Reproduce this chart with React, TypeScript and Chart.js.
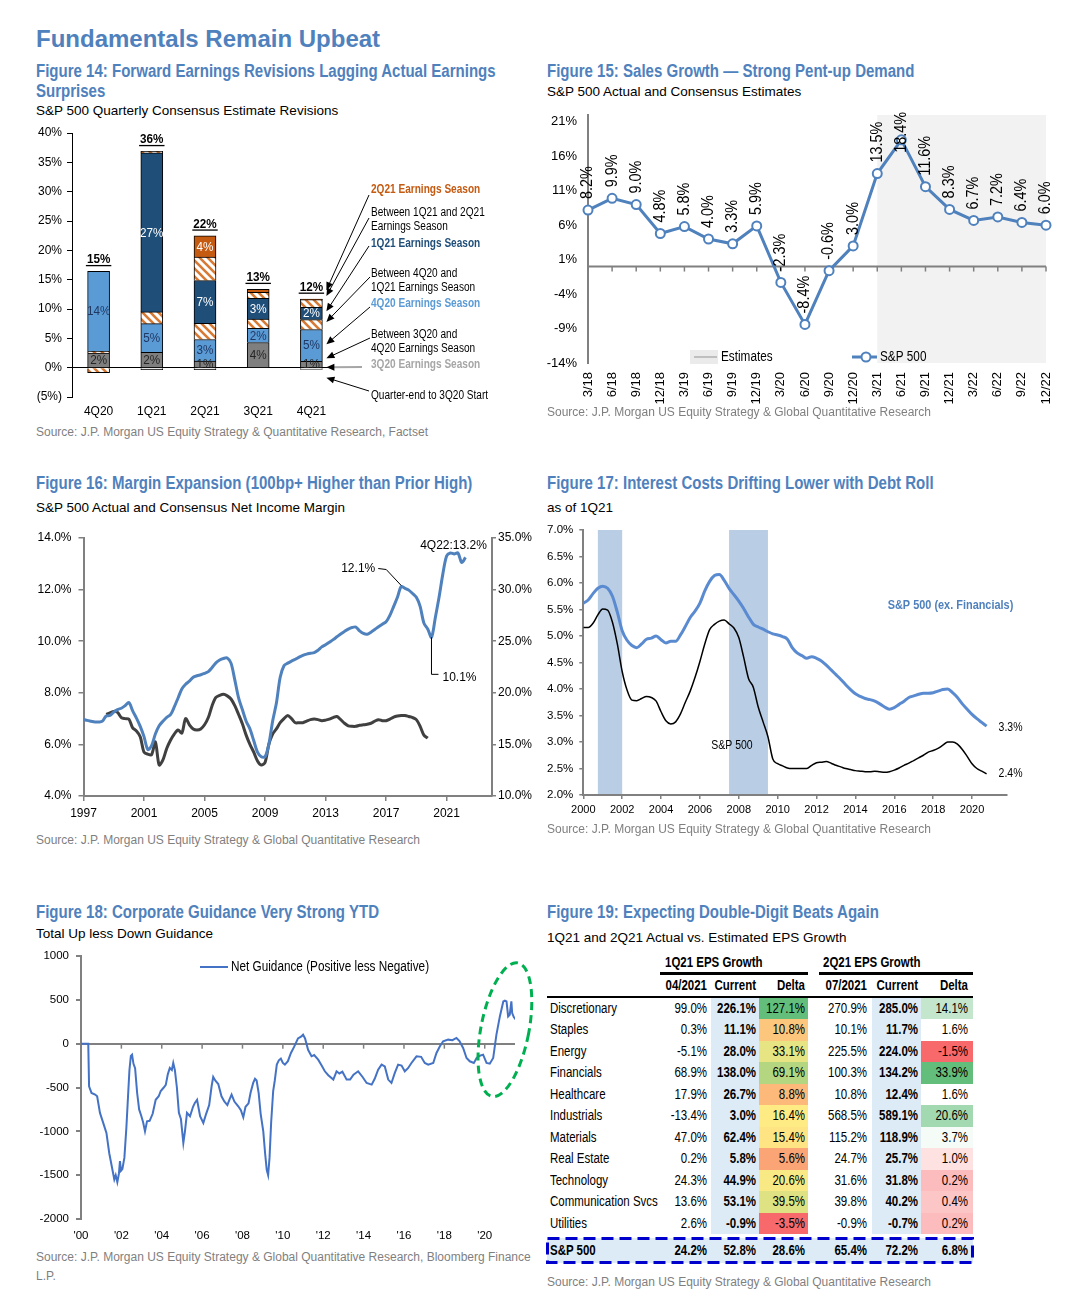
import React, { useEffect, useRef } from "react";
import { Chart, registerables } from "chart.js";

Chart.register(...registerables);

const SANS = '"Liberation Sans", Arial, Helvetica, sans-serif';
const TITLE_BLUE = "#4F81BD";
const AXIS_GRAY = "#808080";
const SOURCE_GRAY = "#7F7F7F";
const NARROW_X = 0.835;

Chart.defaults.font.family = SANS;
Chart.defaults.color = "#000";

/* ---------------- Figure 14 data ---------------- */
const F14_QUARTERS = ["4Q20", "1Q21", "2Q21", "3Q21", "4Q21"];
const F14_SERIES = [
  "Quarter-end to 3Q20 Start",
  "3Q20 Earnings Season",
  "Between 3Q20 and 4Q20 Earnings Season",
  "4Q20 Earnings Season",
  "Between 4Q20 and 1Q21 Earnings Season",
  "1Q21 Earnings Season",
  "Between 1Q21 and 2Q21 Earnings Season",
  "2Q21 Earnings Season",
];
const F14_QE_TO_3Q20 = [-0.86, -0.34, -0.34, 0, -0.3];
const F14_3Q20_SEASON = [2.5, 2.6, 1.14, 4.29, 1.1];
const F14_3Q20_TO_4Q20 = [0.3, 0, 0, 0, 0];
const F14_4Q20_SEASON = [13.6, 4.9, 3.66, 2.4, 5.4];
const F14_4Q20_TO_1Q21 = [0, 2.0, 2.74, 1.6, 1.7];
const F14_1Q21_SEASON = [0, 27.1, 7.32, 3.54, 2.1];
const F14_1Q21_TO_2Q21 = [0, 0.26, 4.0, 1.03, 1.3];
const F14_2Q21_SEASON = [0, 0, 3.6, 0.51, 0.1];
const F14_STACK = [
  F14_QE_TO_3Q20,
  F14_3Q20_SEASON,
  F14_3Q20_TO_4Q20,
  F14_4Q20_SEASON,
  F14_4Q20_TO_1Q21,
  F14_1Q21_SEASON,
  F14_1Q21_TO_2Q21,
  F14_2Q21_SEASON,
];
const F14_TOTALS = ["15%", "36%", "22%", "13%", "12%"];
const F14_LBL_3Q20 = ["2%", "2%", "1%", "4%", "1%"];
const F14_LBL_4Q20 = ["14%", "5%", "3%", "2%", "5%"];
const F14_LBL_1Q21 = ["", "27%", "7%", "3%", "2%"];
const F14_LBL_2Q21 = ["", "", "4%", "", ""];
const F14_Y_TICKS = [-5, 0, 5, 10, 15, 20, 25, 30, 35, 40];
const F14_NOTES = [
  { lines: ["2Q21 Earnings Season"], color: "#C55A11", bold: true },
  { lines: ["Between 1Q21 and 2Q21", "Earnings Season"], color: "#000", bold: false },
  { lines: ["1Q21 Earnings Season"], color: "#1F4E79", bold: true },
  { lines: ["Between 4Q20 and", "1Q21 Earnings Season"], color: "#000", bold: false },
  { lines: ["4Q20 Earnings Season"], color: "#5B9BD5", bold: true },
  { lines: ["Between 3Q20 and", "4Q20 Earnings Season"], color: "#000", bold: false },
  { lines: ["3Q20 Earnings Season"], color: "#A6A6A6", bold: true },
  { lines: ["Quarter-end to 3Q20 Start"], color: "#000", bold: false },
];

/* ---------------- Figure 15 data ---------------- */
const F15_QUARTERS = ["3/18", "6/18", "9/18", "12/18", "3/19", "6/19", "9/19", "12/19", "3/20", "6/20", "9/20", "12/20", "3/21", "6/21", "9/21", "12/21", "3/22", "6/22", "9/22", "12/22"];
const F15_SALES = [8.2, 9.9, 9.0, 4.8, 5.8, 4.0, 3.3, 5.9, -2.3, -8.4, -0.6, 3.0, 13.5, 18.4, 11.6, 8.3, 6.7, 7.2, 6.4, 6.0];
const F15_Y_TICKS = [-14, -9, -4, 1, 6, 11, 16, 21];
const F15_FIRST_ESTIMATE = "3/21";
const F15_LEGEND = ["Estimates", "S&P 500"];

/* ---------------- Figure 16 data (quarterly) ---------------- */
const F16_NET_START = 1997;
const F16_NET_MARGIN = [
  6.97, 6.93, 6.9, 6.87, 6.87, 6.9, 7.1, 7.12, 7.25, 7.35, 7.4, 7.5,
  7.62, 7.3, 7.02, 6.7, 6.3, 5.8, 5.95, 6.4, 6.72, 6.9, 7.05, 7.15,
  7.45, 7.8, 8.15, 8.33, 8.45, 8.6, 8.66, 8.7, 8.75, 8.82, 8.98, 9.16,
  9.27, 9.33, 9.35, 9.15, 8.5, 7.8, 7.35, 6.9, 6.6, 6.15, 5.7, 5.52,
  5.52, 6.0, 6.9, 7.6, 8.6, 9.05, 9.15, 9.23, 9.3, 9.38, 9.45, 9.5,
  9.53, 9.56, 9.65, 9.78, 9.86, 9.96, 10.06, 10.17, 10.28, 10.38, 10.47, 10.53,
  10.55, 10.4, 10.3, 10.27, 10.35, 10.45, 10.56, 10.66, 10.75, 11.0, 11.35, 11.7,
  12.12, 12.05, 11.98, 11.85, 11.7, 11.35, 10.7, 10.47, 10.15, 10.9, 11.7, 12.6,
  13.3, 13.42, 13.38, 13.42, 13.05, 13.25,
];
const F16_OTHER_START = 1998.5;
const F16_OTHER = [
  17.9, 18.05, 18.2, 18.1, 17.6, 17.5, 17.45, 16.6, 16.3, 15.75, 14.25, 14.05,
  14.0, 15.25, 13.0, 13.5, 14.6, 15.4, 16.0, 16.4, 16.1, 17.5, 16.9, 16.5,
  16.4, 16.5, 16.9, 17.6, 18.75, 19.55, 19.75, 19.85, 19.7, 19.4, 18.75, 17.9,
  17.0, 15.9, 15.0, 14.25, 13.4, 13.0, 13.25, 15.0, 16.0, 16.5, 17.1, 17.5,
  17.8, 17.5, 17.1, 17.1, 17.1, 17.25, 17.4, 17.45, 17.4, 17.3, 17.35, 17.45,
  17.6, 17.7, 17.4, 17.05, 16.8, 16.75, 16.75, 16.85, 16.9, 16.95, 17.05, 17.25,
  17.4, 17.3, 17.3, 17.45, 17.65, 17.75, 17.8, 17.8, 17.7, 17.6, 17.4, 16.75,
  15.9, 15.6,
];
const F16_X_TICKS = [1997, 2001, 2005, 2009, 2013, 2017, 2021];
const F16_NOTE_LAST = "4Q22:13.2%";
const F16_NOTE_PEAK = "12.1%";
const F16_NOTE_TROUGH = "10.1%";

/* ---------------- Figure 17 data (quarterly) ---------------- */
const F17_START = 2000;
const F17_EX_FIN = [
  5.62, 5.68, 5.8, 5.9, 5.94, 5.9, 5.75, 5.45, 5.1, 4.92, 4.82, 4.78,
  4.85, 4.94, 4.96, 5.0, 4.93, 4.87, 4.9, 4.9, 5.02, 5.18, 5.35, 5.47,
  5.62, 5.85, 6.03, 6.14, 6.16, 6.05, 5.9, 5.78, 5.66, 5.52, 5.36, 5.22,
  5.17, 5.13, 5.08, 5.04, 5.02, 4.99, 4.94, 4.78, 4.68, 4.63, 4.58, 4.61,
  4.58, 4.53, 4.45, 4.36, 4.27, 4.18, 4.08, 3.99, 3.91, 3.86, 3.82, 3.8,
  3.77, 3.72, 3.66, 3.62, 3.65, 3.71, 3.77, 3.84, 3.87, 3.9, 3.92, 3.92,
  3.93, 3.96, 3.99, 4.0, 3.93, 3.84, 3.72, 3.62, 3.52, 3.44, 3.37, 3.3,
];
const F17_SP500 = [
  5.16, 5.16, 5.24, 5.4, 5.51, 5.49, 5.26, 4.85, 4.33, 3.98, 3.79, 3.78,
  3.82, 3.86, 3.84, 3.77, 3.57, 3.4, 3.34, 3.38, 3.53, 3.75, 3.96, 4.22,
  4.52, 4.85, 5.12, 5.22, 5.28, 5.3, 5.23, 5.15, 4.97, 4.6, 4.2, 4.03,
  3.66, 3.38, 3.1, 2.68, 2.59, 2.55, 2.51, 2.5, 2.5, 2.5, 2.5, 2.56,
  2.61, 2.62, 2.63, 2.6, 2.56, 2.53, 2.5, 2.48, 2.46, 2.45, 2.44, 2.44,
  2.45, 2.44, 2.43, 2.44, 2.47, 2.51, 2.56, 2.6, 2.65, 2.7, 2.75, 2.81,
  2.84, 2.88, 2.94, 3.0, 3.0, 2.96, 2.86, 2.73, 2.59, 2.5, 2.45, 2.4,
];
const F17_RECESSIONS = [
  [2000.75, 2002.0],
  [2007.5, 2009.5],
];
const F17_X_TICKS = [2000, 2002, 2004, 2006, 2008, 2010, 2012, 2014, 2016, 2018, 2020];
const F17_NAMES = ["S&P 500 (ex. Financials)", "S&P 500"];

/* ---------------- Figure 18 data ---------------- */
const F18_DATES = [
  2000.0, 2000.36, 2000.4, 2000.52, 2000.7, 2000.8, 2000.94, 2001.1, 2001.26, 2001.4, 2001.55, 2001.65,
  2001.72, 2001.8, 2001.88, 2001.93, 2001.98, 2002.05, 2002.15, 2002.25, 2002.33, 2002.4, 2002.47, 2002.53,
  2002.6, 2002.68, 2002.78, 2002.88, 2002.98, 2003.08, 2003.17, 2003.27, 2003.4, 2003.55, 2003.7, 2003.85,
  2003.95, 2004.1, 2004.2, 2004.3, 2004.4, 2004.5, 2004.57, 2004.65, 2004.75, 2004.85, 2004.95, 2005.07,
  2005.15, 2005.25, 2005.4, 2005.55, 2005.64, 2005.75, 2005.9, 2006.06, 2006.2, 2006.35, 2006.47, 2006.55,
  2006.65, 2006.8, 2006.96, 2007.1, 2007.25, 2007.35, 2007.46, 2007.6, 2007.79, 2007.92, 2008.04, 2008.15,
  2008.3, 2008.4, 2008.53, 2008.62, 2008.7, 2008.8, 2008.9, 2009.03, 2009.12, 2009.2, 2009.27, 2009.34,
  2009.42, 2009.52, 2009.6, 2009.7, 2009.8, 2009.9, 2010.0, 2010.1, 2010.25, 2010.4, 2010.55, 2010.75,
  2010.9, 2011.0, 2011.1, 2011.25, 2011.42, 2011.55, 2011.75, 2011.9, 2012.08, 2012.25, 2012.5, 2012.66,
  2012.8, 2012.95, 2013.16, 2013.33, 2013.5, 2013.73, 2013.95, 2014.15, 2014.4, 2014.55, 2014.72, 2014.89,
  2015.05, 2015.22, 2015.38, 2015.55, 2015.71, 2015.88, 2016.04, 2016.2, 2016.37, 2016.62, 2016.85, 2017.03,
  2017.2, 2017.45, 2017.61, 2017.78, 2017.94, 2018.19, 2018.4, 2018.6, 2018.75, 2018.93, 2019.1, 2019.26,
  2019.46, 2019.6, 2019.76, 2019.92, 2020.09, 2020.25, 2020.42, 2020.58, 2020.75, 2020.92, 2021.0, 2021.08,
  2021.16, 2021.24, 2021.32, 2021.36, 2021.44, 2021.54,
];
const F18_NET_GUIDANCE = [
  0, 0, -486, -562, -581, -600, -790, -904, -1018, -1250, -1430, -1550,
  -1500, -1580, -1480, -1340, -1450, -1430, -1300, -950, -600, -300, -140, -125,
  -230, -280, -560, -750, -820, -900, -1000, -885, -880, -800, -640, -600,
  -540, -500, -470, -350, -277, -300, -220, -300, -500, -790, -860, -1132,
  -1000, -790, -828, -720, -676, -640, -828, -904, -800, -700, -486, -380,
  -420, -460, -600, -660, -700, -640, -580, -660, -714, -760, -840, -720,
  -680, -560, -448, -400, -420, -560, -800, -1000, -1250, -1440, -1500, -1300,
  -900, -540, -420, -239, -190, -170, -220, -239, -200, -106, -40, 60,
  80, 103, 60, -70, -144, -130, -182, -240, -315, -360, -410, -315,
  -340, -320, -410, -410, -353, -315, -380, -448, -467, -400, -296, -239,
  -260, -410, -448, -330, -239, -250, -315, -280, -220, -144, -150, -220,
  -240, -220, -106, -30, 27, 46, 40, 65, 30, -49, -163, -201,
  -220, -163, -137, -125, -220, -228, -163, 103, 311, 482, 490, 482,
  311, 330, 482, 349, 304, 273,
];
const F18_X_TICKS = [2000, 2002, 2004, 2006, 2008, 2010, 2012, 2014, 2016, 2018, 2020];
const F18_Y_TICKS = [-2000, -1500, -1000, -500, 0, 500, 1000];
const F18_SERIES = "Net Guidance (Positive less Negative)";

/* ---------------- Figure 19 data ---------------- */
const F19_SECTORS = ["Discretionary", "Staples", "Energy", "Financials", "Healthcare", "Industrials", "Materials", "Real Estate", "Technology", "Communication Svcs", "Utilities"];
const F19_1Q_APR = [99.0, 0.3, -5.1, 68.9, 17.9, -13.4, 47.0, 0.2, 24.3, 13.6, 2.6];
const F19_1Q_CUR = [226.1, 11.1, 28.0, 138.0, 26.7, 3.0, 62.4, 5.8, 44.9, 53.1, -0.9];
const F19_1Q_DELTA = [127.1, 10.8, 33.1, 69.1, 8.8, 16.4, 15.4, 5.6, 20.6, 39.5, -3.5];
const F19_2Q_JUL = [270.9, 10.1, 225.5, 100.3, 10.8, 568.5, 115.2, 24.7, 31.6, 39.8, -0.9];
const F19_2Q_CUR = [285.0, 11.7, 224.0, 134.2, 12.4, 589.1, 118.9, 25.7, 31.8, 40.2, -0.7];
const F19_2Q_DELTA = [14.1, 1.6, -1.5, 33.9, 1.6, 20.6, 3.7, 1.0, 0.2, 0.4, 0.2];
const F19_TOTAL_NAME = "S&P 500";
const F19_TOTAL = [24.2, 52.8, 28.6, 65.4, 72.2, 6.8];

/* ---------------- helpers ---------------- */
function makeHatch(): any {
  const c = document.createElement("canvas");
  c.width = 8;
  c.height = 8;
  const g = c.getContext("2d")!;
  g.fillStyle = "#fff";
  g.fillRect(0, 0, 8, 8);
  g.strokeStyle = "#D77A35";
  g.lineWidth = 2.6;
  g.beginPath();
  g.moveTo(-2, -2);
  g.lineTo(10, 10);
  g.moveTo(-6, 2);
  g.lineTo(6, 14);
  g.moveTo(2, -6);
  g.lineTo(14, 6);
  g.stroke();
  return g.createPattern(c, "repeat");
}

function drawArrow(ctx: any, x1: number, y1: number, x2: number, y2: number, color: string, width: number) {
  ctx.save();
  ctx.strokeStyle = color;
  ctx.lineWidth = width;
  const a = Math.atan2(y2 - y1, x2 - x1);
  const L = 8,
    W = 3.5;
  ctx.beginPath();
  ctx.moveTo(x1, y1);
  ctx.lineTo(x2 - Math.cos(a) * 4, y2 - Math.sin(a) * 4);
  ctx.stroke();
  ctx.fillStyle = "#000";
  ctx.beginPath();
  ctx.moveTo(x2, y2);
  ctx.lineTo(x2 - L * Math.cos(a) + W * Math.sin(a), y2 - L * Math.sin(a) - W * Math.cos(a));
  ctx.lineTo(x2 - L * Math.cos(a) - W * Math.sin(a), y2 - L * Math.sin(a) + W * Math.cos(a));
  ctx.closePath();
  ctx.fill();
  ctx.restore();
}

// draw text horizontally condensed (Arial Narrow look)
function narrowText(ctx: any, txt: string, x: number, y: number, sx: number) {
  ctx.save();
  ctx.translate(x, y);
  ctx.scale(sx, 1);
  ctx.fillText(txt, 0, 0);
  ctx.restore();
}

const quarterly = (start: number, vals: number[]) => vals.map((v, i) => ({ x: start + i * 0.25, y: v }));
const fixWidth = (w: number) => (s: any) => {
  s.width = w;
  s.paddingTop = 0;
  s.paddingBottom = 0;
};
const fixHeight = (h: number) => (s: any) => {
  s.height = h;
  s.paddingLeft = 0;
  s.paddingRight = 0;
};
const setTicks = (arr: number[]) => (s: any) => {
  s.ticks = arr.map((v) => ({ value: v }));
};

/* ---------------- Figure 14 chart ---------------- */
function make14(): any {
  const hatch = makeHatch();
  const W = "#FFFFFF";
  const colors: any[] = [[hatch, W, W, W, W], "#7F7F7F", hatch, "#5B9BD5", hatch, "#1F4E79", hatch, "#C55A11"];
  const segLabels: any = { 1: F14_LBL_3Q20, 3: F14_LBL_4Q20, 5: F14_LBL_1Q21, 7: F14_LBL_2Q21 };
  const segInk: any = { 1: "#262626", 3: "#1F3864", 5: "#FFFFFF", 7: "#FFFFFF" };
  const NOTE_Y = [57, 80, 111, 141, 171, 202, 232, 263];
  const NOTE_START = [[-2, 5], [-2, 5], [-2, 2], [-1, 3], [-1, 3], [-1, 3], [-9, 2], [-2, -5]];
  const NOTE_TIP = [13.2, 12.2, 9.6, 7.8, 4.0, 1.6, 0.05, -1.7];
  const plugin = {
    id: "f14",
    afterDatasetsDraw(chart: any) {
      const { ctx, chartArea } = chart;
      const xs = chart.scales.x,
        ys = chart.scales.y;
      ctx.save();
      ctx.textAlign = "center";
      ctx.textBaseline = "middle";
      ctx.font = `13px ${SANS}`;
      Object.keys(segLabels).forEach((k) => {
        const di = Number(k);
        const meta = chart.getDatasetMeta(di);
        segLabels[di].forEach((txt: string, j: number) => {
          if (!txt) return;
          const el = meta.data[j];
          if (!el) return;
          ctx.fillStyle = segInk[di];
          narrowText(ctx, txt, el.x, (el.y + el.base) / 2 + 0.5, 0.9);
        });
      });
      ctx.font = `bold 13px ${SANS}`;
      ctx.textBaseline = "alphabetic";
      ctx.fillStyle = "#000";
      F14_QUARTERS.forEach((_, j) => {
        const sum = F14_STACK.reduce((s, arr) => s + Math.max(0, arr[j]), 0);
        const top = ys.getPixelForValue(sum);
        const x = xs.getPixelForValue(j);
        const t = F14_TOTALS[j];
        narrowText(ctx, t, x, top - 8, 0.9);
        const w = ctx.measureText(t).width * 0.9;
        ctx.fillRect(x - w / 2 - 1, top - 6.5, w + 2, 1.3);
      });
      const tx = chartArea.right + 33;
      const bar = chart.getDatasetMeta(3).data[4];
      const tipX = bar.x + bar.width / 2 + 4;
      ctx.textAlign = "left";
      ctx.textBaseline = "middle";
      F14_NOTES.forEach((n, k) => {
        const cy = chartArea.top + NOTE_Y[k];
        ctx.font = `${n.bold ? "bold " : ""}12px ${SANS}`;
        ctx.fillStyle = n.color;
        n.lines.forEach((ln, li) => narrowText(ctx, ln, tx, cy + li * 14, 0.84));
        const sx = tx + NOTE_START[k][0],
          sy = cy + NOTE_START[k][1];
        drawArrow(ctx, sx, sy, tipX, ys.getPixelForValue(NOTE_TIP[k]), k === 6 ? "#A6A6A6" : "#000", k === 6 ? 2 : 1);
      });
      ctx.restore();
    },
  };
  return {
    type: "bar",
    data: {
      labels: F14_QUARTERS,
      datasets: F14_STACK.map((vals, i) => ({
        label: F14_SERIES[i],
        data: vals.map((v) => (v === 0 ? null : v)),
        backgroundColor: colors[i],
        borderColor: "#000",
        borderWidth: 1,
        barThickness: 22,
      })),
    },
    options: {
      responsive: false,
      animation: false,
      events: [],
      layout: { padding: { top: 13, right: 192, left: 0, bottom: 0 } },
      plugins: { legend: { display: false }, tooltip: { enabled: false } },
      scales: {
        x: {
          stacked: true,
          grid: { display: false, drawTicks: false },
          border: { display: false },
          ticks: { font: { size: 12 }, color: "#000", padding: 7 },
          afterFit: fixHeight(23),
        },
        y: {
          stacked: true,
          min: -5,
          max: 40,
          afterBuildTicks: setTicks(F14_Y_TICKS),
          ticks: { font: { size: 12 }, color: "#000", padding: 5, callback: (v: number) => (v < 0 ? `(${-v}%)` : `${v}%`) },
          grid: {
            color: (c: any) => (c.tick && c.tick.value === 0 ? "#000" : "rgba(0,0,0,0)"),
            tickColor: "#000",
            tickLength: 5,
            lineWidth: 1,
          },
          border: { color: "#000", width: 1 },
          afterFit: fixWidth(42),
        },
      },
    },
    plugins: [plugin],
  };
}

/* ---------------- Figure 15 chart ---------------- */
function make15(): any {
  const plugin = {
    id: "f15",
    beforeDatasetsDraw(chart: any) {
      const { ctx, chartArea } = chart;
      const xs = chart.scales.x,
        ys = chart.scales.y;
      ctx.save();
      const x0 = xs.getPixelForValue(F15_QUARTERS.indexOf(F15_FIRST_ESTIMATE));
      ctx.fillStyle = "#F2F2F2";
      ctx.fillRect(x0, chartArea.top, chartArea.right - x0, chartArea.bottom - chartArea.top);
      const y0 = ys.getPixelForValue(0);
      ctx.strokeStyle = AXIS_GRAY;
      ctx.lineWidth = 2;
      ctx.beginPath();
      ctx.moveTo(chartArea.left, y0);
      ctx.lineTo(chartArea.right, y0);
      ctx.stroke();
      ctx.lineWidth = 1.5;
      F15_QUARTERS.forEach((_, i) => {
        const x = xs.getPixelForValue(i);
        ctx.beginPath();
        ctx.moveTo(x, y0);
        ctx.lineTo(x, y0 + 5);
        ctx.stroke();
      });
      // legend
      const ly = chartArea.bottom - 6;
      const lx = chartArea.left + 102;
      ctx.fillStyle = "#EBEBEB";
      ctx.fillRect(lx, ly - 7, 28, 14);
      ctx.strokeStyle = "#BFBFBF";
      ctx.lineWidth = 2;
      ctx.beginPath();
      ctx.moveTo(lx + 4, ly);
      ctx.lineTo(lx + 27, ly);
      ctx.stroke();
      ctx.fillStyle = "#000";
      ctx.font = `14px ${SANS}`;
      ctx.textAlign = "left";
      ctx.textBaseline = "middle";
      narrowText(ctx, F15_LEGEND[0], lx + 31, ly, 0.84);
      const sx = chartArea.left + 264;
      ctx.strokeStyle = "#4F81BD";
      ctx.lineWidth = 3;
      ctx.beginPath();
      ctx.moveTo(sx, ly);
      ctx.lineTo(sx + 25, ly);
      ctx.stroke();
      ctx.fillStyle = "#fff";
      ctx.lineWidth = 2;
      ctx.beginPath();
      ctx.arc(sx + 14, ly, 4.5, 0, Math.PI * 2);
      ctx.fill();
      ctx.stroke();
      ctx.fillStyle = "#000";
      narrowText(ctx, F15_LEGEND[1], sx + 28, ly, 0.84);
      ctx.restore();
    },
    afterDatasetsDraw(chart: any) {
      const { ctx, chartArea } = chart;
      const meta = chart.getDatasetMeta(0).data;
      ctx.save();
      ctx.font = `16px ${SANS}`;
      ctx.fillStyle = "#000";
      ctx.textAlign = "left";
      ctx.textBaseline = "middle";
      meta.forEach((pt: any, i: number) => {
        const txt = F15_SALES[i].toFixed(1) + "%";
        const w = ctx.measureText(txt).width * 0.9;
        let start = pt.y - 11;
        if (start - w < chartArea.top - 3) start = chartArea.top - 3 + w;
        ctx.save();
        ctx.translate(pt.x, start);
        ctx.rotate(-Math.PI / 2);
        ctx.scale(0.9, 1);
        ctx.fillText(txt, 0, 0);
        ctx.restore();
      });
      ctx.restore();
    },
  };
  return {
    type: "line",
    data: {
      labels: F15_QUARTERS,
      datasets: [
        {
          label: F15_LEGEND[1],
          data: F15_SALES,
          borderColor: "#4F81BD",
          borderWidth: 3,
          pointRadius: 4.5,
          pointBorderWidth: 2,
          pointBackgroundColor: "#fff",
          pointBorderColor: "#4F81BD",
          tension: 0,
        },
      ],
    },
    options: {
      responsive: false,
      animation: false,
      events: [],
      layout: { padding: { top: 10, right: 14, left: 0, bottom: 0 } },
      plugins: { legend: { display: false }, tooltip: { enabled: false } },
      scales: {
        x: {
          offset: false,
          grid: { display: false, drawTicks: false },
          border: { display: false },
          ticks: { font: { size: 13 }, color: "#000", padding: 9, minRotation: 90, maxRotation: 90, autoSkip: false },
          afterFit: fixHeight(47),
        },
        y: {
          min: -14,
          max: 22,
          afterBuildTicks: setTicks(F15_Y_TICKS),
          grid: { display: false, drawTicks: false },
          border: { color: AXIS_GRAY, width: 2 },
          ticks: { font: { size: 13 }, color: "#000", padding: 11, callback: (v: number) => `${v}%` },
          afterFit: fixWidth(48),
        },
      },
    },
    plugins: [plugin],
  };
}

/* ---------------- Figure 16 chart ---------------- */
function make16(): any {
  const plugin = {
    id: "f16",
    afterDatasetsDraw(chart: any) {
      const { ctx } = chart;
      const pts = chart.getDatasetMeta(0).data;
      ctx.save();
      ctx.font = `12px ${SANS}`;
      ctx.fillStyle = "#000";
      ctx.strokeStyle = "#000";
      ctx.lineWidth = 1;
      const last = pts[pts.length - 1];
      ctx.textAlign = "center";
      ctx.textBaseline = "middle";
      ctx.fillText(F16_NOTE_LAST, last.x - 12, last.y - 12);
      let pk = 0;
      for (let i = 0; i < 90; i++) if (F16_NET_MARGIN[i] > F16_NET_MARGIN[pk]) pk = i;
      let tr = 88;
      for (let i = 88; i < 96; i++) if (F16_NET_MARGIN[i] < F16_NET_MARGIN[tr]) tr = i;
      const p = pts[pk];
      ctx.beginPath();
      ctx.moveTo(p.x, p.y - 1);
      ctx.lineTo(p.x - 15, p.y - 17);
      ctx.lineTo(p.x - 23, p.y - 18);
      ctx.stroke();
      ctx.textAlign = "right";
      ctx.fillText(F16_NOTE_PEAK, p.x - 26, p.y - 18);
      const d = pts[tr];
      ctx.beginPath();
      ctx.moveTo(d.x, d.y);
      ctx.lineTo(d.x, d.y + 37);
      ctx.lineTo(d.x + 7, d.y + 37);
      ctx.stroke();
      ctx.textAlign = "left";
      ctx.fillText(F16_NOTE_TROUGH, d.x + 11, d.y + 40);
      ctx.restore();
    },
  };
  const axisGrid = { display: true, drawOnChartArea: false, drawTicks: true, tickLength: 5, color: AXIS_GRAY, lineWidth: 1.5 };
  return {
    type: "line",
    data: {
      datasets: [
        { label: "S&P 500 Net Income Margin", data: quarterly(F16_NET_START, F16_NET_MARGIN), yAxisID: "y", borderColor: "#4F81BD", borderWidth: 3, pointRadius: 0, tension: 0.3 },
        { label: "Other", data: quarterly(F16_OTHER_START, F16_OTHER), yAxisID: "y2", borderColor: "#404040", borderWidth: 3, pointRadius: 0, tension: 0.3 },
      ],
    },
    options: {
      responsive: false,
      animation: false,
      events: [],
      layout: { padding: { top: 13, right: 0, left: 0, bottom: 0 } },
      plugins: { legend: { display: false }, tooltip: { enabled: false } },
      scales: {
        x: {
          type: "linear",
          min: 1997,
          max: 2024,
          afterBuildTicks: setTicks(F16_X_TICKS),
          grid: axisGrid,
          border: { color: AXIS_GRAY, width: 2 },
          ticks: { font: { size: 12 }, color: "#000", padding: 5, callback: (v: number) => String(v) },
          afterFit: fixHeight(29),
        },
        y: {
          min: 4,
          max: 14,
          afterBuildTicks: setTicks([4, 6, 8, 10, 12, 14]),
          grid: axisGrid,
          border: { color: AXIS_GRAY, width: 2 },
          ticks: { font: { size: 12 }, color: "#000", padding: 7, callback: (v: number) => v.toFixed(1) + "%" },
          afterFit: fixWidth(53.5),
        },
        y2: {
          position: "right",
          min: 10,
          max: 35,
          afterBuildTicks: setTicks([10, 15, 20, 25, 30, 35]),
          grid: { ...axisGrid, tickLength: 4 },
          border: { color: AXIS_GRAY, width: 2 },
          ticks: { font: { size: 12 }, color: "#000", padding: 2, callback: (v: number) => v.toFixed(1) + "%" },
          afterFit: fixWidth(58),
        },
      },
    },
    plugins: [plugin],
  };
}

/* ---------------- Figure 17 chart ---------------- */
function make17(): any {
  const plugin = {
    id: "f17",
    beforeDatasetsDraw(chart: any) {
      const { ctx, chartArea } = chart;
      const xs = chart.scales.x;
      ctx.save();
      ctx.fillStyle = "#B9CDE5";
      F17_RECESSIONS.forEach(([a, b]) => {
        const x1 = xs.getPixelForValue(a),
          x2 = xs.getPixelForValue(b);
        ctx.fillRect(x1, chartArea.top, x2 - x1, chartArea.bottom - chartArea.top - 1);
      });
      ctx.restore();
    },
    afterDatasetsDraw(chart: any) {
      const { ctx } = chart;
      const xs = chart.scales.x,
        ys = chart.scales.y;
      ctx.save();
      ctx.textBaseline = "middle";
      ctx.textAlign = "left";
      ctx.font = `bold 13px ${SANS}`;
      ctx.fillStyle = "#4F81BD";
      narrowText(ctx, F17_NAMES[0], xs.getPixelForValue(2015.66), ys.getPixelForValue(5.585), 0.84);
      ctx.font = `12.5px ${SANS}`;
      ctx.fillStyle = "#000";
      const b = chart.getDatasetMeta(0).data;
      const k = chart.getDatasetMeta(1).data;
      const lb = b[b.length - 1],
        lk = k[k.length - 1];
      narrowText(ctx, F17_EX_FIN[F17_EX_FIN.length - 1].toFixed(1) + "%", lb.x + 12, lb.y + 1, 0.84);
      narrowText(ctx, F17_SP500[F17_SP500.length - 1].toFixed(1) + "%", lk.x + 12, lk.y, 0.84);
      ctx.textAlign = "center";
      narrowText(ctx, F17_NAMES[1], xs.getPixelForValue(2007.65), ys.getPixelForValue(2.94), 0.84);
      ctx.restore();
    },
  };
  const axisGrid = { display: true, drawOnChartArea: false, drawTicks: true, tickLength: 4, color: AXIS_GRAY, lineWidth: 1.5 };
  return {
    type: "line",
    data: {
      datasets: [
        { label: F17_NAMES[0], data: quarterly(F17_START, F17_EX_FIN), borderColor: "#5A8AD0", borderWidth: 3, pointRadius: 0, cubicInterpolationMode: "monotone" },
        { label: F17_NAMES[1], data: quarterly(F17_START, F17_SP500), borderColor: "#000", borderWidth: 1.5, pointRadius: 0, cubicInterpolationMode: "monotone" },
      ],
    },
    options: {
      responsive: false,
      animation: false,
      events: [],
      layout: { padding: { top: 10, right: 53, left: 0, bottom: 0 } },
      plugins: { legend: { display: false }, tooltip: { enabled: false } },
      scales: {
        x: {
          type: "linear",
          min: 2000,
          max: 2021.8,
          afterBuildTicks: setTicks(F17_X_TICKS),
          grid: axisGrid,
          border: { color: AXIS_GRAY, width: 2 },
          ticks: { font: { size: 11 }, color: "#000", padding: 4, callback: (v: number) => String(v) },
          afterFit: fixHeight(25),
        },
        y: {
          min: 2,
          max: 7,
          afterBuildTicks: setTicks([2, 2.5, 3, 3.5, 4, 4.5, 5, 5.5, 6, 6.5, 7]),
          grid: axisGrid,
          border: { color: AXIS_GRAY, width: 2 },
          ticks: { font: { size: 11.5 }, color: "#000", padding: 6, callback: (v: number) => v.toFixed(1) + "%" },
          afterFit: fixWidth(43.3),
        },
      },
    },
    plugins: [plugin],
  };
}

/* ---------------- Figure 18 chart ---------------- */
function make18(): any {
  const plugin = {
    id: "f18",
    beforeDatasetsDraw(chart: any) {
      const { ctx } = chart;
      const xs = chart.scales.x,
        ys = chart.scales.y;
      const y0 = ys.getPixelForValue(0);
      ctx.save();
      ctx.strokeStyle = AXIS_GRAY;
      ctx.lineWidth = 1.5;
      F18_X_TICKS.slice(1).forEach((t) => {
        const x = xs.getPixelForValue(t);
        ctx.beginPath();
        ctx.moveTo(x, y0);
        ctx.lineTo(x, y0 + 5);
        ctx.stroke();
      });
      ctx.restore();
    },
    afterDatasetsDraw(chart: any) {
      const { ctx, chartArea } = chart;
      const xs = chart.scales.x,
        ys = chart.scales.y;
      ctx.save();
      const lx = chartArea.left + 119,
        ly = chartArea.top + 11;
      ctx.strokeStyle = "#4472C4";
      ctx.lineWidth = 2;
      ctx.beginPath();
      ctx.moveTo(lx, ly);
      ctx.lineTo(lx + 28, ly);
      ctx.stroke();
      ctx.font = `14px ${SANS}`;
      ctx.fillStyle = "#000";
      ctx.textAlign = "left";
      ctx.textBaseline = "middle";
      narrowText(ctx, F18_SERIES, lx + 31, ly, 0.84);
      ctx.strokeStyle = "#00B050";
      ctx.lineWidth = 3;
      ctx.setLineDash([8, 5]);
      ctx.beginPath();
      ctx.ellipse(xs.getPixelForValue(2021.0), ys.getPixelForValue(160), 24, 68, (11 * Math.PI) / 180, 0, Math.PI * 2);
      ctx.stroke();
      ctx.restore();
    },
  };
  return {
    type: "line",
    data: {
      datasets: [
        {
          label: F18_SERIES,
          data: F18_DATES.map((d, i) => ({ x: d, y: F18_NET_GUIDANCE[i] })),
          borderColor: "#4472C4",
          borderWidth: 2,
          pointRadius: 0,
          tension: 0,
        },
      ],
    },
    options: {
      responsive: false,
      animation: false,
      events: [],
      layout: { padding: { top: 11, right: 25, left: 0, bottom: 0 } },
      plugins: { legend: { display: false }, tooltip: { enabled: false } },
      scales: {
        x: {
          type: "linear",
          min: 2000,
          max: 2021.5,
          afterBuildTicks: setTicks(F18_X_TICKS),
          grid: { display: false, drawTicks: false },
          border: { display: false },
          ticks: { font: { size: 11.5 }, color: "#000", padding: 10, callback: (v: number) => "'" + String(v).slice(2) },
          afterFit: fixHeight(26),
        },
        y: {
          min: -2000,
          max: 1000,
          afterBuildTicks: setTicks(F18_Y_TICKS),
          grid: {
            color: (c: any) => (c.tick && c.tick.value === 0 ? AXIS_GRAY : "rgba(0,0,0,0)"),
            lineWidth: 2,
            tickColor: AXIS_GRAY,
            tickLength: 5,
          },
          border: { color: AXIS_GRAY, width: 2 },
          ticks: { font: { size: 11.5 }, color: "#000", padding: 7, callback: (v: number) => String(v) },
          afterFit: fixWidth(51),
        },
      },
    },
    plugins: [plugin],
  };
}

/* ---------------- components ---------------- */
function ChartBox({ x, y, w, h, make }: any) {
  const ref = useRef<HTMLCanvasElement | null>(null);
  useEffect(() => {
    if (!ref.current) return;
    const chart = new Chart(ref.current, make());
    return () => chart.destroy();
  }, []);
  return (
    <div style={{ position: "absolute", left: x, top: y, width: w, height: h }}>
      <canvas ref={ref} width={w} height={h} style={{ width: w, height: h, display: "block" }} />
    </div>
  );
}

function T({ x, y, size = 12, bold = false, color = "#000", lh, sx, children }: any) {
  const lineH = lh || Math.round(size * 1.2);
  return (
    <div
      style={{
        position: "absolute",
        left: x,
        top: y - lineH / 2,
        fontFamily: SANS,
        fontSize: size,
        fontWeight: bold ? 700 : 400,
        color,
        lineHeight: lineH + "px",
        whiteSpace: "nowrap",
        transform: sx ? `scaleX(${sx})` : undefined,
        transformOrigin: "left center",
      }}
    >
      {children}
    </div>
  );
}

function Title({ x, y, children }: any) {
  return (
    <T x={x} y={y} size={18} bold color={TITLE_BLUE} lh={20} sx={NARROW_X}>
      {children}
    </T>
  );
}

function mixColor(a: number[], b: number[], t: number) {
  const c = a.map((v, i) => Math.round(v + (b[i] - v) * t));
  return `rgb(${c[0]},${c[1]},${c[2]})`;
}
function scaleColor(vals: number[], v: number, lo: number[], mid: number[], hi: number[]) {
  const s = [...vals].sort((p, q) => p - q);
  const mn = s[0],
    mx = s[s.length - 1],
    md = s[Math.floor(s.length / 2)];
  if (v <= md) return mixColor(lo, mid, md === mn ? 1 : (v - mn) / (md - mn));
  return mixColor(mid, hi, (v - md) / (mx - md));
}
const RED = [248, 105, 107],
  YEL = [255, 235, 132],
  GRN = [99, 190, 123],
  WHT = [255, 255, 255];

function EpsTable() {
  const X = [547, 664, 711, 759, 808, 872, 921, 973];
  const PAD = [0, 4, 3, 3, 5, 3, 5];
  const top0 = 997.5,
    rh = 21.5;
  const fs = 14;
  const SQ = 0.82;
  const CUR_BG = "#DDEBF6";
  const els: any[] = [];
  const cell = (key: string, c: number, top: number, h: number, txt: string, bold: boolean) =>
    els.push(
      <div
        key={key}
        style={{
          position: "absolute",
          left: c === 0 ? X[0] + 3 : X[c] - 20,
          top,
          width: c === 0 ? X[1] - X[0] - 3 : X[c + 1] - X[c] - PAD[c] + 20,
          height: h,
          lineHeight: h + "px",
          textAlign: c === 0 ? "left" : "right",
          fontFamily: SANS,
          fontSize: fs,
          fontWeight: bold ? 700 : 400,
          color: "#000",
          whiteSpace: "nowrap",
          transform: `scaleX(${SQ})`,
          transformOrigin: c === 0 ? "left center" : "right center",
        }}
      >
        {txt}
      </div>
    );
  const pct = (v: number) => v.toFixed(1) + "%";
  [2, 5].forEach((c) =>
    els.push(<div key={"cb" + c} style={{ position: "absolute", left: X[c], top: 998, width: X[c + 1] - X[c], height: top0 + 11 * rh - 998, background: CUR_BG }} />)
  );
  F19_SECTORS.forEach((_, r) => {
    const top = top0 + r * rh;
    els.push(
      <div key={"d1" + r} style={{ position: "absolute", left: X[3], top, width: X[4] - X[3], height: rh, background: scaleColor(F19_1Q_DELTA, F19_1Q_DELTA[r], RED, YEL, GRN) }} />
    );
    els.push(
      <div key={"d2" + r} style={{ position: "absolute", left: X[6], top, width: X[7] - X[6], height: rh, background: scaleColor(F19_2Q_DELTA, F19_2Q_DELTA[r], RED, WHT, GRN) }} />
    );
  });
  const hdr = (key: string, left: number, txt: string) =>
    els.push(
      <div
        key={key}
        style={{ position: "absolute", left, top: 953, lineHeight: "18px", fontFamily: SANS, fontSize: fs, fontWeight: 700, whiteSpace: "nowrap", transform: `scaleX(${SQ})`, transformOrigin: "left center" }}
      >
        {txt}
      </div>
    );
  hdr("ha1", 665, "1Q21 EPS Growth");
  hdr("ha2", 823, "2Q21 EPS Growth");
  els.push(<div key="l1" style={{ position: "absolute", left: 660, top: 972, width: 148, height: 3, background: "#000" }} />);
  els.push(<div key="l2" style={{ position: "absolute", left: 819, top: 972, width: 154, height: 3, background: "#000" }} />);
  ["", "04/2021", "Current", "Delta", "07/2021", "Current", "Delta"].forEach((t, c) => {
    if (t) cell("hb" + c, c, 975, 20, t, true);
  });
  els.push(<div key="l3" style={{ position: "absolute", left: 547, top: 996, width: 426, height: 2, background: "#000" }} />);
  F19_SECTORS.forEach((s, r) => {
    const top = top0 + r * rh;
    cell("s" + r, 0, top, rh, s, false);
    cell("a" + r, 1, top, rh, pct(F19_1Q_APR[r]), false);
    cell("b" + r, 2, top, rh, pct(F19_1Q_CUR[r]), true);
    cell("c" + r, 3, top, rh, pct(F19_1Q_DELTA[r]), false);
    cell("e" + r, 4, top, rh, pct(F19_2Q_JUL[r]), false);
    cell("f" + r, 5, top, rh, pct(F19_2Q_CUR[r]), true);
    cell("g" + r, 6, top, rh, pct(F19_2Q_DELTA[r]), false);
  });
  const tTop = 1238,
    tH = 25;
  els.push(<div key="tbg" style={{ position: "absolute", left: 547, top: tTop, width: 426, height: tH, background: CUR_BG }} />);
  cell("t0", 0, tTop, tH, F19_TOTAL_NAME, true);
  F19_TOTAL.forEach((v, i) => cell("t" + (i + 1), i + 1, tTop, tH, pct(v), true));
  els.push(
    <svg key="tbox" width={428} height={27} style={{ position: "absolute", left: 546, top: tTop - 1, overflow: "visible" }}>
      <rect x={1.5} y={1.5} width={425} height={24} fill="none" stroke="#0000CC" strokeWidth={3} strokeDasharray="12 6" />
    </svg>
  );
  return <>{els}</>;
}

export default function App() {
  return (
    <div style={{ position: "absolute", left: 0, top: 0, width: 1072, height: 1304, background: "#fff", overflow: "hidden" }}>
      <T x={36} y={38} size={24} bold color={TITLE_BLUE}>
        Fundamentals Remain Upbeat
      </T>

      {/* Figure 14 */}
      <Title x={36} y={71}>
        Figure 14: Forward Earnings Revisions Lagging Actual Earnings
      </Title>
      <Title x={36} y={91}>
        Surprises
      </Title>
      <T x={36} y={111} size={13.5}>
        S&amp;P 500 Quarterly Consensus Estimate Revisions
      </T>
      <ChartBox x={30} y={120} w={500} h={300} make={make14} />
      <T x={36} y={432} size={12} color={SOURCE_GRAY}>
        Source: J.P. Morgan US Equity Strategy &amp; Quantitative Research, Factset
      </T>

      {/* Figure 15 */}
      <Title x={547} y={71}>
        Figure 15: Sales Growth — Strong Pent-up Demand
      </Title>
      <T x={547} y={92} size={13.5}>
        S&amp;P 500 Actual and Consensus Estimates
      </T>
      <ChartBox x={540} y={105} w={520} h={305} make={make15} />
      <T x={547} y={412} size={12} color={SOURCE_GRAY}>
        Source: J.P. Morgan US Equity Strategy &amp; Global Quantitative Research
      </T>

      {/* Figure 16 */}
      <Title x={36} y={483}>
        Figure 16: Margin Expansion (100bp+ Higher than Prior High)
      </Title>
      <T x={36} y={508} size={13.5}>
        S&amp;P 500 Actual and Consensus Net Income Margin
      </T>
      <ChartBox x={30} y={525} w={520} h={300} make={make16} />
      <T x={36} y={840} size={12} color={SOURCE_GRAY}>
        Source: J.P. Morgan US Equity Strategy &amp; Global Quantitative Research
      </T>

      {/* Figure 17 */}
      <Title x={547} y={483}>
        Figure 17: Interest Costs Drifting Lower with Debt Roll
      </Title>
      <T x={547} y={508} size={13.5}>
        as of 1Q21
      </T>
      <ChartBox x={540} y={520} w={520} h={300} make={make17} />
      <T x={547} y={829} size={12} color={SOURCE_GRAY}>
        Source: J.P. Morgan US Equity Strategy &amp; Global Quantitative Research
      </T>

      {/* Figure 18 */}
      <Title x={36} y={912}>
        Figure 18: Corporate Guidance Very Strong YTD
      </Title>
      <T x={36} y={934} size={13.5}>
        Total Up less Down Guidance
      </T>
      <ChartBox x={30} y={945} w={510} h={300} make={make18} />
      <T x={36} y={1257} size={12} color={SOURCE_GRAY}>
        Source: J.P. Morgan US Equity Strategy &amp; Global Quantitative Research, Bloomberg Finance
      </T>
      <T x={36} y={1276} size={12} color={SOURCE_GRAY}>
        L.P.
      </T>

      {/* Figure 19 */}
      <Title x={547} y={912}>
        Figure 19: Expecting Double-Digit Beats Again
      </Title>
      <T x={547} y={938} size={13.5}>
        1Q21 and 2Q21 Actual vs. Estimated EPS Growth
      </T>
      <EpsTable />
      <T x={547} y={1282} size={12} color={SOURCE_GRAY}>
        Source: J.P. Morgan US Equity Strategy &amp; Global Quantitative Research
      </T>
    </div>
  );
}
